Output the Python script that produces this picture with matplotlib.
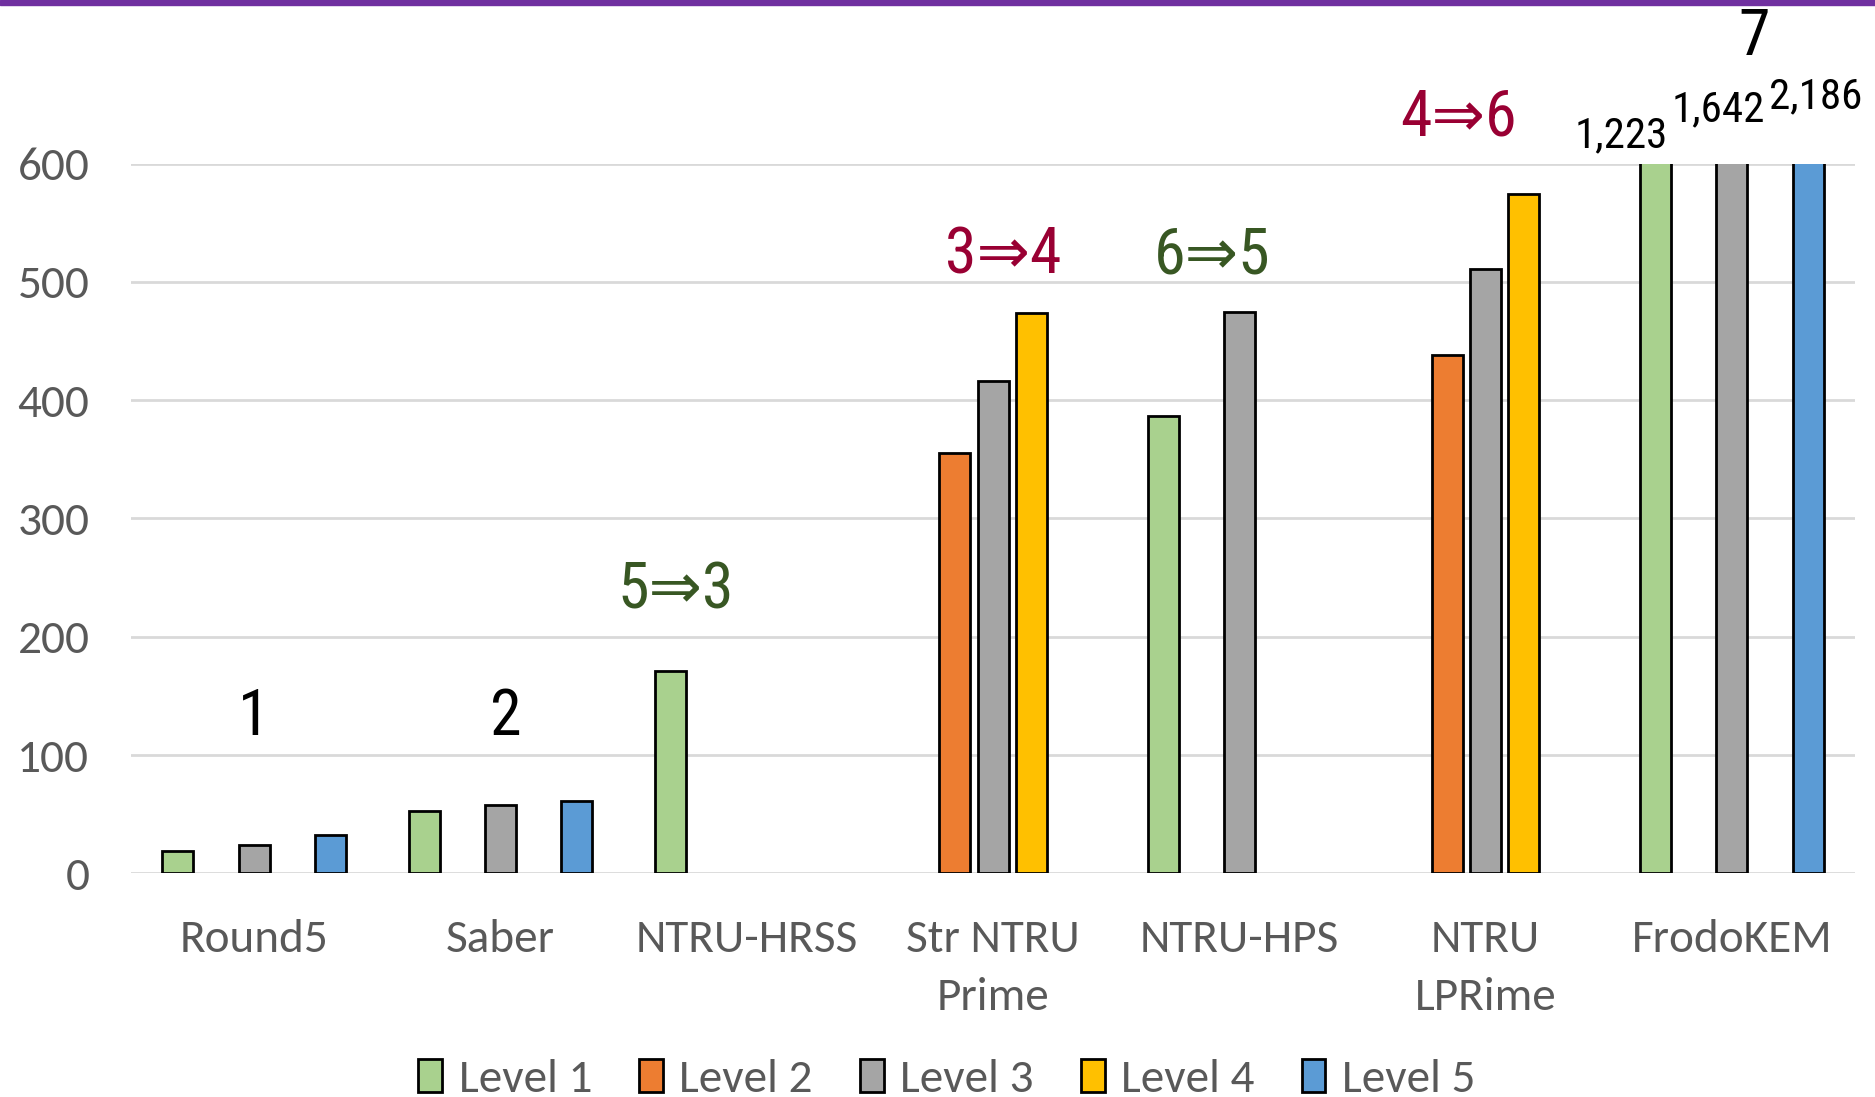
import numpy as np
import matplotlib.pyplot as plt
from matplotlib.patches import Rectangle

# schemes and security levels
schemes = ["Round5", "Saber", "NTRU-HRSS", "Str NTRU\nPrime", "NTRU-HPS", "NTRU\nLPRime", "FrodoKEM"]
levels = ["Level 1", "Level 2", "Level 3", "Level 4", "Level 5"]
colors = ["#A9D18E", "#ED7D31", "#A5A5A5", "#FFC000", "#5B9BD5"]

# one list per level, None where a scheme has no parameter set
level1 = [19, 53, 171, None, 387, None, 1223]
level2 = [None, None, None, 355, None, 438, None]
level3 = [24, 58, None, 416, 475, 511, 1642]
level4 = [None, None, None, 474, None, 574, None]
level5 = [32, 61, None, None, None, None, 2186]
series = [level1, level2, level3, level4, level5]

# ranking notes above each group
ranks = ["1", "2", "5\u21d23", "3\u21d24", "6\u21d25", "4\u21d26", "7"]
rank_colors = ["black", "black", "#385723", "#990033", "#385723", "#990033", "black"]
rank_x = [0.0, 1.02, 1.71, 3.04, 3.89, 4.89, 6.09]
rank_y = [117, 117, 224, 507, 507, 624, 692]

ymax = 600
gray = "#595959"
axis_font = ["Carlito", "DejaVu Sans"]
note_font = ["Roboto Condensed", "DejaVu Sans"]
# where the numbers of off-scale bars go, per level: (x shift, height above the axis top)
over_pos = {0: (-0.14, 14), 2: (-0.054, 36), 4: (0.03, 47)}

fig = plt.figure(figsize=(18.75, 10.97), dpi=100)
ax = fig.add_axes([0.0699, 0.2039, 0.9195, 0.6469])

x = np.arange(len(schemes))
slot = 0.155
width = 0.126
for j, vals in enumerate(series):
    xs = [x[i] + (j - 2) * slot for i, v in enumerate(vals) if v is not None]
    hs = [v for v in vals if v is not None]
    ax.bar(xs, hs, width=width, color=colors[j], edgecolor="black",
           linewidth=2, label=levels[j], zorder=3)
    for xi, h in zip(xs, hs):
        if h > ymax:
            dx, dy = over_pos[j]
            ax.text(xi + dx, ymax + dy, f"{h:,}", ha="center", va="baseline",
                    fontsize=31, family=note_font, color="black", clip_on=False)

for i, r in enumerate(ranks):
    ax.text(rank_x[i], rank_y[i], r, ha="center", va="baseline", fontsize=46,
            family=note_font, color=rank_colors[i], clip_on=False)

ax.set_xlim(-0.5, len(schemes) - 0.5)
ax.set_ylim(0, ymax)
ax.set_yticks(range(0, 601, 100))
ax.set_xticks(x)
ax.set_xticklabels(schemes, linespacing=1.5)
ax.yaxis.grid(True, color="#D9D9D9", linewidth=2)
ax.set_axisbelow(True)
for s in ax.spines.values():
    s.set_visible(False)
ax.tick_params(axis="both", length=0, colors=gray, labelsize=34)
ax.tick_params(axis="y", pad=30)
ax.tick_params(axis="x", pad=33)
for lab in ax.get_xticklabels() + ax.get_yticklabels():
    lab.set_family(axis_font)

leg = fig.legend(loc="center", bbox_to_anchor=(0.505, 0.016), ncol=5, frameon=False,
                 fontsize=34, handlelength=0.5, handleheight=0.68,
                 handletextpad=0.35, columnspacing=1.0, borderaxespad=0)
for t in leg.get_texts():
    t.set_color(gray)
    t.set_family(axis_font)

# purple rule along the top edge
fig.patches.append(Rectangle((0, 1 - 5 / 1097), 1, 5 / 1097, transform=fig.transFigure,
                             color="#7030A0", zorder=10))

fig.savefig("out.png", dpi=100)
